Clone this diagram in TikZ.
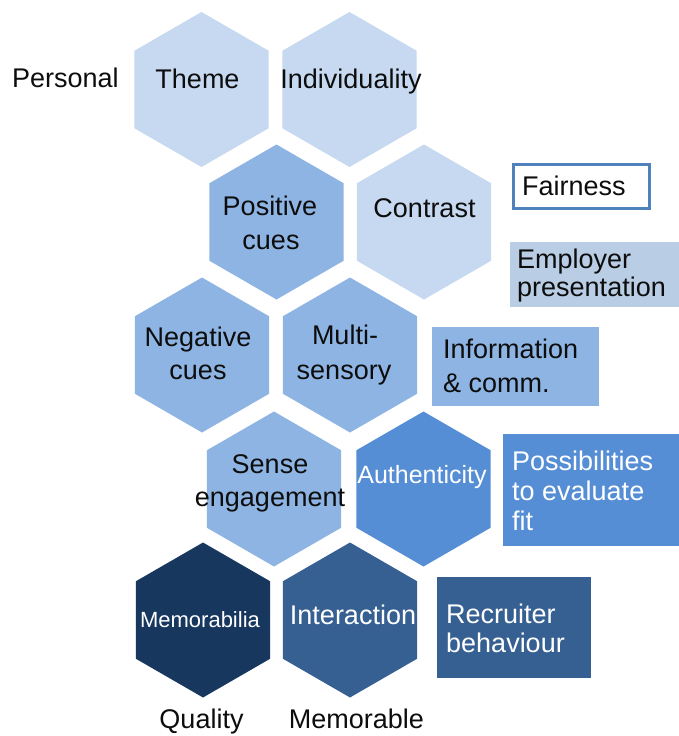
\documentclass[tikz,border=0pt]{standalone}
\usepackage{fontspec}
\setmainfont{Liberation Sans}
\usetikzlibrary{shapes.geometric}
\definecolor{hexA}{HTML}{C6D9F1}
\definecolor{hexB}{HTML}{8EB4E3}
\definecolor{hexC}{HTML}{558ED5}
\definecolor{hexD}{HTML}{376092}
\definecolor{hexE}{HTML}{17375E}
\definecolor{boxE}{HTML}{B9CDE5}
\definecolor{fairline}{HTML}{4F81BD}
\definecolor{ink}{HTML}{0D0D0D}
\begin{document}
\begin{tikzpicture}[x=1pt,y=-1pt,
  hex/.style={regular polygon, regular polygon sides=6, shape border rotate=30,
    minimum size=155pt, inner sep=0pt, draw=none},
  box/.style={rectangle, inner sep=0pt, draw=none, anchor=north west},
  txt/.style={font=\fontsize{27}{32}\selectfont, text=ink, inner sep=0pt, anchor=base},
  ltxt/.style={txt, anchor=base west},
  wtxt/.style={txt, text=white},
  wltxt/.style={ltxt, text=white}]
\useasboundingbox (0,0) rectangle (678,736);
% hexagons
\node[hex, fill=hexA] (theme) at (201.5,89.5) {};
\node[hex, fill=hexA] (indiv) at (349.5,89.5) {};
\node[hex, fill=hexB] (pos) at (276.5,222) {};
\node[hex, fill=hexA] (contrast) at (424,222) {};
\node[hex, fill=hexB] (neg) at (202,355) {};
\node[hex, fill=hexB] (multi) at (350,355) {};
\node[hex, fill=hexB] (sense) at (274,489) {};
\node[hex, fill=hexC] (auth) at (423.5,489) {};
\node[hex, fill=hexE] (memo) at (203,620) {};
\node[hex, fill=hexD] (inter) at (350,620) {};
% boxes
\node[box, fill=white, draw=fairline, line width=3pt, minimum width=136pt, minimum height=44pt] (fair) at (511.5,162.5) {};
\node[box, fill=boxE, minimum width=170pt, minimum height=65pt] (employer) at (510,242) {};
\node[box, fill=hexB, minimum width=167pt, minimum height=79pt] (info) at (432,327) {};
\node[box, fill=hexC, minimum width=177pt, minimum height=112pt] (poss) at (503,434) {};
\node[box, fill=hexD, minimum width=154pt, minimum height=101pt] (recr) at (437,577) {};
% free labels
\node[ltxt] (personal) at (12,87) {Personal};
\node[txt] (quality) at (201.5,728) {Quality};
\node[txt] (memorable) at (356.5,728) {Memorable};
% hexagon labels
\node[txt] (themeT) at (197.5,88) {Theme};
\node[txt] (indivT) at (351,88) {Individuality};
\node[txt] (posT1) at (270,215) {Positive};
\node[txt] (posT2) at (271,249) {cues};
\node[txt] (contrastT) at (424.5,217) {Contrast};
\node[txt] (negT1) at (198,346) {Negative};
\node[txt] (negT2) at (198,379) {cues};
\node[txt] (multiT1) at (345,344) {Multi-};
\node[txt] (multiT2) at (344,379) {sensory};
\node[txt] (senseT1) at (270,473) {Sense};
\node[txt] (senseT2) at (270,506) {engagement};
\node[wtxt, font=\fontsize{25}{30}\selectfont] (authT) at (422,483) {Authenticity};
\node[wtxt, font=\fontsize{22}{26}\selectfont] (memoT) at (200,627) {Memorabilia};
\node[wtxt] (interT) at (353,624) {Interaction};
% box labels
\node[ltxt] (fairT) at (522,195) {Fairness};
\node[ltxt] (empT1) at (517,268) {Employer};
\node[ltxt] (empT2) at (517,296) {presentation};
\node[ltxt] (infoT1) at (443,358) {Information};
\node[ltxt] (infoT2) at (443,392) {\& comm.};
\node[wltxt] (possT1) at (512,470) {Possibilities};
\node[wltxt] (possT2) at (512,500) {to evaluate};
\node[wltxt] (possT3) at (512,530) {fit};
\node[wltxt] (recrT1) at (446,623) {Recruiter};
\node[wltxt] (recrT2) at (446,652) {behaviour};
\end{tikzpicture}
\end{document}
